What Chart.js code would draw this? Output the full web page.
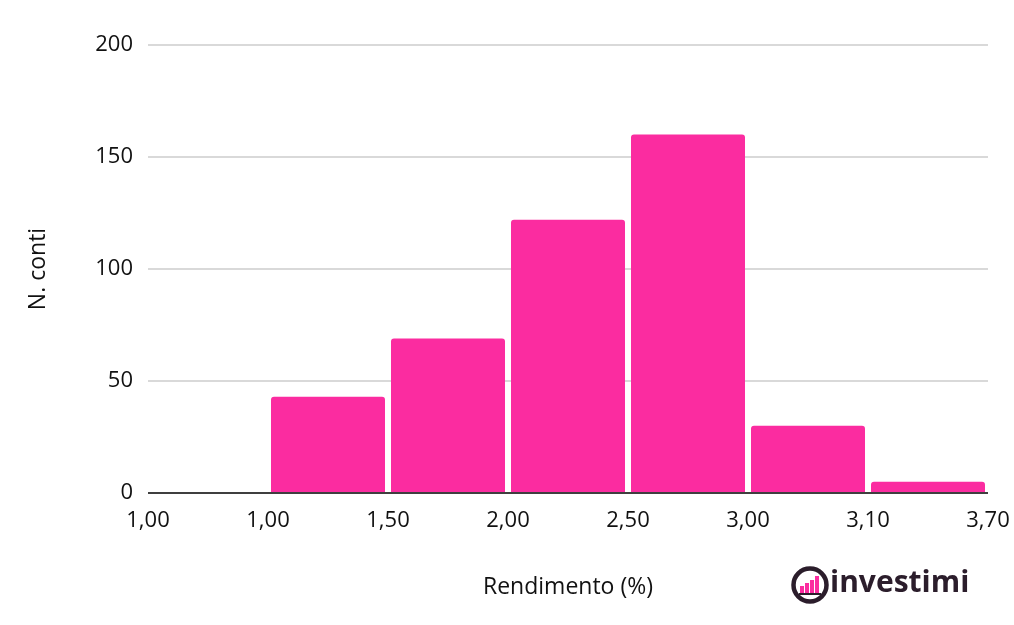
<!DOCTYPE html>
<html>
<head>
<meta charset="utf-8">
<script src="https://cdn.jsdelivr.net/npm/chart.js@4/dist/chart.umd.min.js"></script>
<style>
  html, body { margin: 0; padding: 0; background: #ffffff; }
  #wrap { width: 1014px; height: 625px; }
</style>
</head>
<body>
<div id="wrap"><canvas id="c" width="1014" height="625"></canvas></div>
<script>
// Bins (categories) and counts
const binLabels = ['1,00–1,00', '1,00–1,50', '1,50–2,00', '2,00–2,50', '2,50–3,00', '3,00–3,10', '3,10–3,70'];
const counts = [0, 43, 69, 122, 160, 30, 5];
// Bin edge tick labels
const edgeLabels = ['1,00', '1,00', '1,50', '2,00', '2,50', '3,00', '3,10', '3,70'];
const yTicks = [0, 50, 100, 150, 200];

const FONT = '"Open Sans", sans-serif';

const logoPlugin = {
  id: 'logo',
  afterDraw(chart) {
    const ctx = chart.ctx;
    ctx.save();
    const cx = 810, cy = 585, r = 16.5;
    ctx.strokeStyle = '#2b1d2b';
    ctx.lineWidth = 4.5;
    ctx.beginPath();
    ctx.arc(cx, cy, r, 0, Math.PI * 2);
    ctx.stroke();
    ctx.fillStyle = '#fb2ca0';
    const bw = 4, base = cy + 8;
    const hs = [7, 10, 13, 17];
    for (let i = 0; i < 4; i++) {
      ctx.fillRect(cx - 10 + i * 5, base - hs[i], bw, hs[i]);
    }
    ctx.fillStyle = '#2b1d2b';
    ctx.fillRect(cx - 11, base, 22, 2);
    ctx.font = 'bold 30px "Open Sans", sans-serif';
    ctx.textBaseline = 'middle';
    ctx.textAlign = 'left';
    ctx.fillText('investimi', 830, 583);
    ctx.restore();
  }
};

new Chart(document.getElementById('c'), {
  type: 'bar',
  data: {
    labels: binLabels,
    datasets: [{
      data: counts,
      backgroundColor: '#fb2ca0',
      borderWidth: 0,
      borderRadius: { topLeft: 3, topRight: 3, bottomLeft: 0, bottomRight: 0 },
      borderSkipped: 'bottom',
      categoryPercentage: 1.0,
      barPercentage: 0.95
    }]
  },
  options: {
    responsive: false,
    animation: false,
    devicePixelRatio: 1,
    layout: { padding: { left: 25, right: 26, top: 45, bottom: 24 } },
    plugins: { legend: { display: false }, tooltip: { enabled: false } },
    scales: {
      x: {
        type: 'category',
        display: false,
        offset: true
      },
      xEdges: {
        type: 'linear',
        position: 'bottom',
        offset: false,
        min: 0,
        max: edgeLabels.length - 1,
        grid: { display: false, drawTicks: false, offset: false },
        border: { display: false },
        ticks: {
          stepSize: 1,
          padding: 15,
          autoSkip: false,
          maxRotation: 0,
          color: '#111111',
          font: { family: FONT, size: 22 },
          callback: (v) => edgeLabels[v]
        },
        title: {
          display: true,
          text: 'Rendimento (%)',
          color: '#111111',
          font: { family: FONT, size: 23 },
          padding: { top: 0, bottom: 0 }
        },
        afterFit(scale) {
          scale.height = 108;
          scale.paddingLeft = 0;
          scale.paddingRight = 0;
        }
      },
      y: {
        min: 0,
        max: 200,
        afterBuildTicks(scale) { scale.ticks = yTicks.map(v => ({ value: v })); },
        grid: {
          drawTicks: false,
          lineWidth: 2,
          color: (c) => (c.tick && c.tick.value === 0) ? '#3f3f3f' : '#d9d9d9'
        },
        border: { display: false },
        ticks: {
          padding: 15,
          color: '#111111',
          font: { family: FONT, size: 22 }
        },
        title: {
          display: true,
          text: 'N. conti',
          color: '#111111',
          font: { family: FONT, size: 23 },
          padding: { top: 0, bottom: 0 }
        },
        afterFit(scale) {
          scale.width = 123;
          scale.paddingTop = 0;
          scale.paddingBottom = 0;
        }
      }
    }
  },
  plugins: [logoPlugin]
});
</script>
</body>
</html>
